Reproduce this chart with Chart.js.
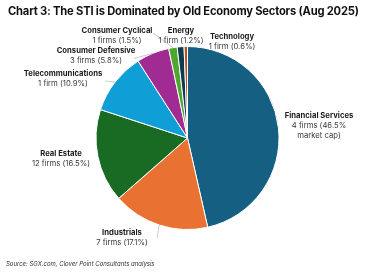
<!DOCTYPE html>
<html>
<head>
<meta charset="utf-8">
<script src="https://cdn.jsdelivr.net/npm/chart.js@4.4.1/dist/chart.umd.min.js"></script>
<style>
    html, body { margin: 0; padding: 0; background: #fff; }
    #wrap { position: relative; width: 375px; height: 275px; overflow: hidden; }
    #title {
        position: absolute; left: 8px; top: 4px;
        font: bold 11.2px Inter, sans-serif; color: #111; white-space: nowrap;
        letter-spacing: -0.2px;
    }
    #source {
        position: absolute; left: 6px; top: 260px;
        font: italic 6px Inter, sans-serif; color: #333; white-space: nowrap;
    }
    canvas { position: absolute; left: 0; top: 0; }
</style>
</head>
<body>
<div id="wrap">
    <canvas id="pieChart" width="375" height="275"></canvas>
    <div id="title">Chart 3: The STI is Dominated by Old Economy Sectors (Aug 2025)</div>
    <div id="source">Source: SGX.com, Clover Point Consultants analysis</div>
</div>
<script>
// Sector data (clockwise from 12 o'clock)
const sectors = ['Financial Services', 'Industrials', 'Real Estate', 'Telecommunications',
    'Consumer Defensive', 'Consumer Cyclical', 'Energy', 'Technology'];
const firmLabels = ['4 firms', '7 firms', '12 firms', '1 firm', '3 firms', '1 firms', '1 firm', '1 firm'];
const shares = [46.5, 17.1, 16.5, 10.9, 5.8, 1.5, 1.2, 0.6];
const colors = ['#156082', '#e97132', '#196b24', '#0f9ed5', '#a02b93', '#4ea72e', '#0c3a50', '#b5531c'];

// Label placement relative to pie centre (dx, dy of first line); leader start also relative to centre
const labelLayout = [
    { dx: 131.5, dy: -22, lines: ['Financial Services', '4 firms (46.5%', 'market cap)'] },
    { dx: -65.5, dy: 95, leader: [-30.5, 100] },
    { dx: -126.5, dy: 16 },
    { dx: -124.5, dy: -64, leader: [-82.5, -57] },
    { dx: -91.5, dy: -87, leader: [-53.5, -79.5] },
    { dx: -70.5, dy: -107, leader: [-34.5, -105] },
    { dx: -6.5, dy: -107 },
    { dx: 44.5, dy: -101 }
];

const outsideLabels = {
    id: 'outsideLabels',
    afterDraw(chart) {
        const ctx = chart.ctx;
        const arcs = chart.getDatasetMeta(0).data;
        ctx.save();
        arcs.forEach((arc, i) => {
            const cx = arc.x, cy = arc.y;
            const layout = labelLayout[i];
            const mid = (arc.startAngle + arc.endAngle) / 2;
            const r = arc.outerRadius;
            if (layout.leader) {
                ctx.strokeStyle = '#bdbdbd';
                ctx.lineWidth = 0.8;
                ctx.beginPath();
                ctx.moveTo(cx + layout.leader[0], cy + layout.leader[1]);
                ctx.lineTo(cx + Math.cos(mid) * r, cy + Math.sin(mid) * r);
                ctx.stroke();
            }
            const lines = layout.lines || [sectors[i], `${firmLabels[i]} (${shares[i]}%)`];
            ctx.textAlign = 'center';
            ctx.textBaseline = 'middle';
            lines.forEach((line, j) => {
                ctx.font = (j === 0 ? 'bold ' : '') + '7.7px Inter, sans-serif';
                ctx.fillStyle = j === 0 ? '#1a1a1a' : '#3a3a3a';
                ctx.fillText(line, cx + layout.dx, cy + layout.dy + j * 9.7);
            });
        });
        ctx.restore();
    }
};

new Chart(document.getElementById('pieChart').getContext('2d'), {
    type: 'pie',
    data: {
        labels: sectors,
        datasets: [{
            data: shares,
            backgroundColor: colors,
            borderColor: '#ffffff',
            borderWidth: 1
        }]
    },
    options: {
        responsive: false,
        animation: false,
        layout: { padding: { top: 46, bottom: 45, left: 0, right: 0 } },
        plugins: {
            legend: { display: false },
            tooltip: { enabled: false }
        }
    },
    plugins: [outsideLabels]
});
</script>
</body>
</html>
